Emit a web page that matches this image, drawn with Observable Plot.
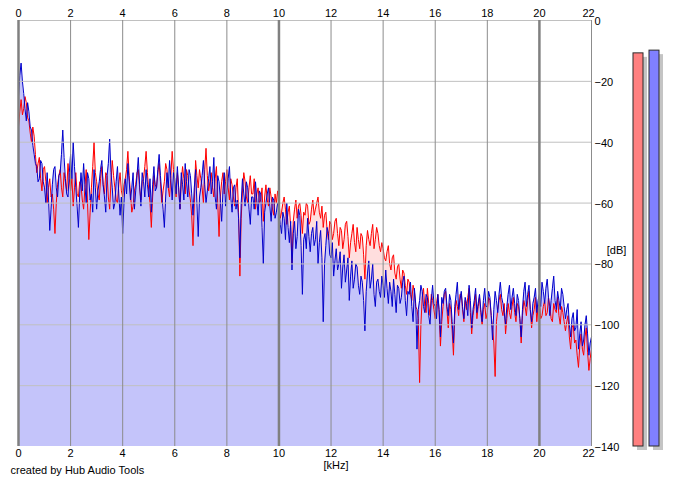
<!DOCTYPE html>
<html><head><meta charset="utf-8">
<script src="https://cdn.jsdelivr.net/npm/d3@7"></script>
<script src="https://cdn.jsdelivr.net/npm/@observablehq/plot@0.6"></script>
<style>
body{margin:0;background:#fff;}
#wrap{position:relative;width:673px;height:486px;font-family:"Liberation Sans",Arial,sans-serif;background:#fff;}
#main{position:absolute;left:0;top:0;}
#meter{position:absolute;left:627px;top:0;}
</style></head><body><div id="wrap"><div id="main"></div><div id="meter"></div></div>
<script>
// frequency step of the spectrum bins (kHz)
const freqStep = 0.05;
// right channel (blue), dB, one value per 0.05 kHz from 0 to 22 kHz
const blueDb = [
-25,-18,-14,-20,-24,-29,-33,-27,-30,-35,-36,-41,-44,-47,-48,-53,-52,-46,-47,-53,
-55,-60,-50,-58,-69,-62,-54,-49,-48,-55,-58,-51,-50,-44,-36,-45,-52,-57,-58,-50,
-44,-52,-40,-48,-55,-61,-68,-57,-50,-56,-47,-54,-60,-50,-52,-59,-57,-63,-49,-55,
-62,-56,-53,-49,-46,-54,-58,-63,-51,-47,-39,-50,-55,-62,-60,-53,-48,-57,-64,-58,
-70,-60,-52,-57,-47,-53,-59,-55,-50,-62,-56,-51,-45,-54,-61,-50,-53,-58,-49,-54,
-58,-52,-63,-54,-48,-56,-55,-49,-44,-51,-57,-62,-68,-58,-50,-55,-46,-52,-59,-50,
-52,-57,-48,-55,-62,-50,-54,-59,-47,-53,-58,-49,-51,-57,-64,-55,-49,-60,-71,-58,
-55,-51,-46,-54,-60,-56,-52,-48,-57,-53,-45,-58,-62,-51,-53,-59,-66,-56,-50,-61,
-56,-52,-48,-58,-63,-55,-54,-62,-59,-65,-78,-60,-52,-57,-61,-53,-55,-62,-67,-58,
-58,-62,-53,-59,-64,-56,-57,-68,-80,-63,-60,-57,-55,-61,-66,-58,-59,-65,-63,-60,
-62,-67,-70,-63,-65,-72,-60,-68,-73,-66,-82,-70,-66,-75,-71,-62,-64,-74,-90,-72,
-70,-75,-65,-71,-76,-70,-68,-74,-72,-66,-80,-73,-69,-78,-99,-80,-74,-68,-70,-77,
-78,-73,-84,-79,-75,-82,-80,-76,-88,-81,-77,-86,-82,-78,-92,-84,-79,-88,-85,-80,
-81,-87,-90,-84,-86,-92,-102,-89,-83,-79,-88,-85,-80,-90,-94,-86,-85,-89,-91,-84,
-87,-91,-82,-88,-93,-86,-89,-94,-85,-90,-96,-87,-88,-93,-91,-86,-84,-92,-97,-89,
-90,-86,-94,-99,-88,-93,-108,-95,-92,-87,-89,-94,-96,-90,-91,-97,-100,-92,-87,-93,
-94,-98,-90,-95,-104,-91,-93,-89,-88,-94,-97,-90,-92,-99,-106,-94,-90,-86,-95,-92,
-89,-94,-98,-91,-93,-97,-87,-92,-101,-95,-92,-88,-96,-93,-90,-95,-99,-92,-88,-94,
-94,-89,-91,-97,-105,-95,-89,-92,-96,-90,-86,-91,-93,-96,-100,-94,-90,-87,-95,-91,
-88,-93,-97,-90,-92,-98,-104,-95,-89,-86,-94,-90,-87,-95,-99,-93,-91,-88,-96,-92,
-90,-94,-86,-89,-93,-88,-85,-91,-97,-92,-88,-84,-92,-95,-89,-92,-95,-88,-90,-94,
-98,-95,-93,-100,-104,-98,-96,-102,-101,-95,-108,-103,-99,-107,-105,-100,-97,-103,-110,-106,
-104
];
// left channel (red), dB
const redDb = [
-35,-30,-26,-31,-29,-25,-27,-32,-33,-37,-40,-35,-38,-44,-50,-47,-45,-52,-56,-49,
-48,-53,-60,-55,-52,-58,-57,-62,-70,-60,-54,-51,-49,-55,-58,-50,-53,-56,-47,-52,
-56,-52,-61,-55,-50,-57,-58,-53,-54,-59,-62,-55,-49,-60,-72,-63,-55,-48,-40,-50,
-53,-57,-59,-52,-48,-54,-57,-50,-51,-58,-62,-53,-46,-51,-55,-59,-60,-54,-50,-56,
-58,-54,-52,-49,-43,-51,-57,-63,-61,-56,-54,-50,-49,-55,-59,-53,-52,-48,-43,-50,
-56,-60,-68,-58,-51,-54,-55,-50,-47,-53,-60,-56,-53,-47,-49,-55,-58,-51,-43,-49,
-54,-58,-50,-55,-62,-53,-48,-52,-57,-49,-51,-56,-59,-64,-74,-60,-46,-51,-55,-49,
-52,-55,-60,-49,-42,-51,-56,-53,-50,-55,-58,-52,-48,-60,-71,-58,-53,-50,-57,-53,
-49,-55,-59,-52,-54,-58,-61,-55,-52,-63,-84,-65,-56,-50,-53,-58,-60,-55,-51,-57,
-57,-52,-62,-57,-55,-60,-59,-55,-66,-58,-54,-59,-61,-55,-58,-62,-64,-57,-60,-56,
-59,-65,-63,-60,-58,-62,-67,-63,-61,-68,-80,-66,-62,-59,-65,-61,-60,-64,-70,-63,
-64,-60,-61,-67,-66,-62,-59,-64,-62,-60,-58,-63,-65,-61,-68,-64,-63,-69,-72,-66,
-67,-72,-70,-66,-65,-70,-74,-68,-69,-75,-72,-67,-66,-71,-78,-73,-70,-67,-73,-76,
-68,-72,-75,-70,-71,-77,-85,-74,-69,-72,-74,-70,-67,-75,-72,-68,-70,-74,-76,-73,
-75,-78,-79,-76,-74,-80,-82,-78,-77,-83,-85,-81,-80,-85,-88,-82,-83,-87,-90,-85,
-86,-90,-92,-87,-89,-94,-95,-98,-119,-100,-91,-88,-94,-96,-88,-93,-97,-90,-92,-95,
-98,-93,-90,-96,-107,-99,-94,-90,-89,-95,-101,-93,-95,-102,-110,-97,-92,-94,-97,-90,
-90,-95,-99,-92,-95,-91,-88,-96,-103,-97,-94,-90,-98,-94,-91,-96,-100,-95,-93,-98,
-96,-91,-92,-97,-101,-106,-117,-99,-95,-92,-90,-95,-97,-93,-103,-98,-93,-96,-98,-94,
-91,-96,-99,-93,-94,-98,-106,-97,-92,-94,-97,-92,-89,-95,-101,-97,-95,-91,-99,-94,
-93,-98,-97,-94,-92,-97,-96,-91,-94,-98,-99,-93,-95,-96,-91,-97,-100,-94,-96,-99,
-102,-99,-97,-104,-108,-101,-100,-106,-105,-110,-114,-107,-103,-108,-110,-104,-101,-109,-115,-111,
-108
];
const xTicks = [0,2,4,6,8,10,12,14,16,18,20,22];
const xMajor = [0,10,20];
const yTicks = [0,-20,-40,-60,-80,-100,-120,-140];
const meterChannels = ["L","R"];
const meterDb = [-10.8,-9.9];
const meterColors = ["#ff8080","#8080ff"];

const spectrum = blueDb.map((b,i)=>({f:i*freqStep, b, r:redDb[i]}));
const xMinor = xTicks.filter(t=>!xMajor.includes(t));
const xLast = xTicks.slice(-1);
const xInner = xTicks.slice(0,-1);
const font = '"Liberation Sans",Arial,sans-serif';

const main = Plot.plot({
  width:673, height:486,
  marginLeft:18, marginRight:82, marginTop:20, marginBottom:40,
  style:{fontFamily:font, fontSize:"11px", color:"#000", background:"#fff"},
  x:{domain:[0,22]},
  y:{domain:[-140,0]},
  marks:[
    Plot.areaY(spectrum,{x:"f", y1:-140, y2:"r", fill:"#ffdede"}),
    Plot.areaY(spectrum,{x:"f", y1:-140, y2:"b", fill:"#c4c4fa"}),
    Plot.lineY(spectrum,{x:"f", y:"r", stroke:"#ff0000", strokeWidth:1}),
    Plot.lineY(spectrum,{x:"f", y:"b", stroke:"#0000cc", strokeWidth:1}),
    Plot.ruleY(yTicks.filter(t=>t>-140),{stroke:"#c0c0c0", strokeWidth:1}),
    Plot.ruleX(xMinor,{stroke:"#8c8c8c", strokeWidth:1}),
    Plot.ruleX(xMajor,{stroke:"#808080", strokeWidth:2.5}),
    Plot.axisX({anchor:"top", ticks:xInner, tickSize:0, tickPadding:4, label:null}),
    Plot.axisX({anchor:"top", ticks:xLast, tickSize:0, tickPadding:4, dx:-3, label:null}),
    Plot.axisX({anchor:"bottom", ticks:xInner, tickSize:0, tickPadding:3, label:null}),
    Plot.axisX({anchor:"bottom", ticks:xLast, tickSize:0, tickPadding:3, dx:-3, label:null}),
    Plot.axisY({anchor:"right", ticks:yTicks, tickSize:0, tickPadding:3, dy:1, label:null}),
    Plot.text(["[dB]"],{frameAnchor:"right", dx:25, dy:17, textAnchor:"middle"}),
    Plot.text(["[kHz]"],{frameAnchor:"bottom", dx:31, dy:22}),
    Plot.text(["created by Hub Audio Tools"],{frameAnchor:"bottom-left", textAnchor:"start", dx:-8, dy:27})
  ]
});
document.getElementById("main").append(main);

const levels = meterChannels.map((ch,i)=>({ch, db:meterDb[i], color:meterColors[i]}));
const meter = Plot.plot({
  width:46, height:486,
  marginLeft:0, marginRight:8, marginTop:20, marginBottom:40,
  style:{background:"transparent"},
  x:{domain:meterChannels, padding:0.375, axis:null},
  y:{domain:[-140,0], axis:null},
  marks:[
    Plot.barY(levels,{x:"ch", y1:-140, y2:"db", fill:"#c4c4c4", dx:4, dy:4}),
    Plot.barY(levels,{x:"ch", y1:-140, y2:"db", fill:"color", stroke:"#2a2a2a", strokeWidth:1})
  ]
});
document.getElementById("meter").append(meter);
</script></body></html>
